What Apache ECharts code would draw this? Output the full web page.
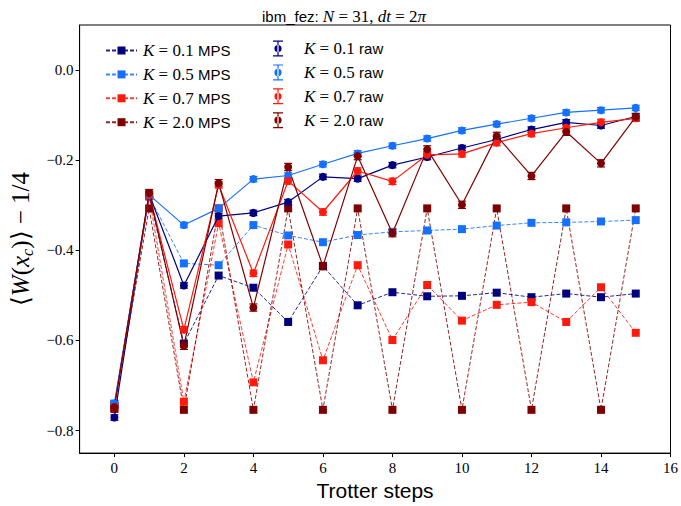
<!DOCTYPE html>
<html><head><meta charset="utf-8">
<script src="https://cdn.jsdelivr.net/npm/echarts@6/dist/echarts.min.js"></script>
<style>html,body{margin:0;padding:0;background:#fff}#c{width:681px;height:506px}</style>
</head><body><div id="c"></div>
<script>
// ---- data ----
const steps = [0,1,2,3,4,5,6,7,8,9,10,11,12,13,14,15];
const xTicks = [0,2,4,6,8,10,12,14,16];
const yTicks = [-0.8,-0.6,-0.4,-0.2,0.0];

const mps01 = [-0.745,-0.280,-0.607,-0.456,-0.483,-0.559,-0.435,-0.522,-0.493,-0.502,-0.501,-0.494,-0.504,-0.496,-0.504,-0.496];
const mps05 = [-0.740,-0.280,-0.429,-0.433,-0.344,-0.367,-0.382,-0.366,-0.359,-0.356,-0.353,-0.345,-0.339,-0.338,-0.336,-0.333];
const mps07 = [-0.745,-0.280,-0.736,-0.340,-0.693,-0.387,-0.644,-0.433,-0.599,-0.477,-0.556,-0.521,-0.515,-0.559,-0.482,-0.583];
const mps20 = [-0.752,-0.307,-0.754,-0.307,-0.754,-0.307,-0.754,-0.307,-0.754,-0.307,-0.754,-0.307,-0.754,-0.307,-0.754,-0.307];

const raw01 = [-0.771,-0.275,-0.478,-0.324,-0.317,-0.293,-0.237,-0.241,-0.211,-0.193,-0.173,-0.154,-0.132,-0.116,-0.123,-0.103];
const raw05 = [-0.740,-0.277,-0.344,-0.307,-0.242,-0.234,-0.209,-0.185,-0.168,-0.152,-0.134,-0.120,-0.107,-0.094,-0.089,-0.084];
const raw07 = [-0.748,-0.275,-0.576,-0.255,-0.451,-0.246,-0.315,-0.224,-0.247,-0.188,-0.186,-0.161,-0.141,-0.128,-0.116,-0.107];
const raw20 = [-0.748,-0.273,-0.612,-0.251,-0.527,-0.215,-0.435,-0.191,-0.362,-0.176,-0.299,-0.146,-0.235,-0.137,-0.207,-0.104];

const err01 = [0.006,0.006,0.006,0.006,0.006,0.006,0.006,0.006,0.006,0.006,0.006,0.006,0.006,0.006,0.006,0.006];
const err05 = [0.006,0.006,0.006,0.006,0.006,0.006,0.006,0.006,0.006,0.006,0.006,0.006,0.006,0.006,0.006,0.006];
const err07 = [0.007,0.007,0.007,0.007,0.007,0.007,0.007,0.007,0.007,0.007,0.007,0.007,0.007,0.007,0.007,0.007];
const err20 = [0.008,0.008,0.008,0.008,0.008,0.008,0.008,0.008,0.008,0.008,0.008,0.008,0.008,0.008,0.008,0.008];

const kValues = ['0.1','0.5','0.7','2.0'];
const colors = ['#00007f','#1570ff','#ff1a0d','#7f0000'];
const mpsSets = [mps01, mps05, mps07, mps20];
const rawSets = [raw01, raw05, raw07, raw20];
const errSets = [err01, err05, err07, err20];

// ---- chart ----
const chart = echarts.init(document.getElementById('c'), null, {renderer: 'svg'});
const serif = 'Liberation Serif';
const sans = 'Liberation Sans';
const mpsNames = kValues.map(k => 'K = ' + k + ' MPS');
const rawNames = kValues.map(k => 'K = ' + k + ' raw');
const errIcon = 'path://M0,0H10V1.2H0Z M4.4,0H5.6V16H4.4Z M0,14.8H10V16H0Z M1.4,8A3.6,3.6 0 1,0 8.6,8A3.6,3.6 0 1,0 1.4,8Z';

function makeRich(spw) {
  return {
    sp: {width: spw, lineHeight: 18},
    k: {fontFamily: serif, fontStyle: 'italic', fontSize: 17, color: '#000', lineHeight: 18},
    n: {fontFamily: serif, fontSize: 17, color: '#000', lineHeight: 18},
    m: {fontFamily: sans, fontSize: 15, color: '#000', lineHeight: 18}
  };
}
function fmtMps(name) {
  const p = name.split(' ');
  return '{sp|}{k|K}{n| = ' + p[2] + '} {m|' + p[3] + '}';
}

const series = [];
mpsSets.forEach((d, i) => {
  series.push({
    type: 'line', name: mpsNames[i], z: 2,
    data: steps.map((s, j) => [s, d[j]]),
    symbol: 'rect', symbolSize: 8,
    itemStyle: {color: colors[i]},
    lineStyle: {color: colors[i], width: 1, type: [4, 2], opacity: 0.85},
    animation: false
  });
});
rawSets.forEach((d, i) => {
  const e = errSets[i];
  const c = colors[i];
  series.push({
    type: 'custom', name: 'err' + i, z: 3, silent: true, animation: false,
    data: steps.map((s, j) => [s, d[j] - e[j], d[j] + e[j]]),
    renderItem: (params, api) => {
      const x = api.value(0), lo = api.value(1), hi = api.value(2);
      const p1 = api.coord([x, hi]), p2 = api.coord([x, lo]);
      const w = 4;
      const style = {stroke: c, lineWidth: 1.2};
      return {type: 'group', children: [
        {type: 'line', shape: {x1: p1[0], y1: p1[1], x2: p2[0], y2: p2[1]}, style},
        {type: 'line', shape: {x1: p1[0] - w, y1: p1[1], x2: p1[0] + w, y2: p1[1]}, style},
        {type: 'line', shape: {x1: p2[0] - w, y1: p2[1], x2: p2[0] + w, y2: p2[1]}, style}
      ]};
    }
  });
});
rawSets.forEach((d, i) => {
  series.push({
    type: 'line', name: rawNames[i], z: 4,
    data: steps.map((s, j) => [s, d[j]]),
    symbol: 'circle', symbolSize: 8,
    itemStyle: {color: colors[i]},
    lineStyle: {color: colors[i], width: 1.2},
    animation: false
  });
});

const option = {
  animation: false,
  backgroundColor: '#fff',
  title: {
    text: '{a|ibm_fez: }{i|N}{r| = 31, }{i|dt}{r| = 2}{i|π}',
    left: 257, top: 3,
    textStyle: {
      fontWeight: 'normal',
      rich: {
        a: {fontFamily: sans, fontSize: 15, color: '#000', fontWeight: 'normal'},
        i: {fontFamily: serif, fontStyle: 'italic', fontSize: 17, color: '#000', fontWeight: 'normal'},
        r: {fontFamily: serif, fontSize: 17, color: '#000', fontWeight: 'normal'}
      }
    }
  },
  grid: {left: 78, right: 10, top: 25, bottom: 43, show: true, borderColor: '#000', borderWidth: 1, containLabel: false},
  legend: [
    {
      data: mpsNames, orient: 'vertical', left: 100, top: 37,
      itemWidth: 31, itemHeight: 10, itemGap: 6.9,
      textStyle: {color: '#000', fontSize: 16, rich: makeRich(1)},
      formatter: fmtMps, selectedMode: false
    },
    {
      data: rawNames.map(n => ({name: n, icon: errIcon})), orient: 'vertical', left: 268, top: 35,
      itemWidth: 10, itemHeight: 16, itemGap: 6.9,
      textStyle: {color: '#000', fontSize: 16, rich: makeRich(16)},
      formatter: fmtMps, selectedMode: false
    }
  ],
  xAxis: {
    type: 'value', min: -1, max: 16,
    name: 'Trotter steps', nameLocation: 'middle', nameGap: 22,
    nameTextStyle: {fontFamily: sans, fontSize: 21, color: '#000'},
    axisLine: {show: true, onZero: false, lineStyle: {color: '#000', width: 1}},
    axisTick: {show: true, length: 4, customValues: xTicks, lineStyle: {color: '#000'}},
    axisLabel: {customValues: xTicks, margin: 7, fontFamily: serif, fontSize: 15, color: '#000'},
    splitLine: {show: false}
  },
  yAxis: {
    type: 'value', min: -0.85, max: 0.1,
    name: '{r|⟨}{i|W}{r|(}{i|x}{s|c}{r|)⟩ − 1/4}', nameLocation: 'middle', nameGap: 38,
    nameTextStyle: {
      rich: {
        r: {fontFamily: serif, fontSize: 25, color: '#000', lineHeight: 30},
        i: {fontFamily: serif, fontStyle: 'italic', fontSize: 25, color: '#000', lineHeight: 30},
        s: {fontFamily: serif, fontStyle: 'italic', fontSize: 16, color: '#000', lineHeight: 30, verticalAlign: 'bottom'}
      }
    },
    axisLine: {show: true, onZero: false, lineStyle: {color: '#000', width: 1}},
    axisTick: {show: true, length: 4, customValues: yTicks, lineStyle: {color: '#000'}},
    axisLabel: {
      customValues: yTicks, margin: 6, fontFamily: serif, fontSize: 15, color: '#000',
      formatter: v => Number(v).toFixed(1).replace('-', '−')
    },
    splitLine: {show: false}
  },
  series: series
};
chart.setOption(option);
</script>
</body></html>
